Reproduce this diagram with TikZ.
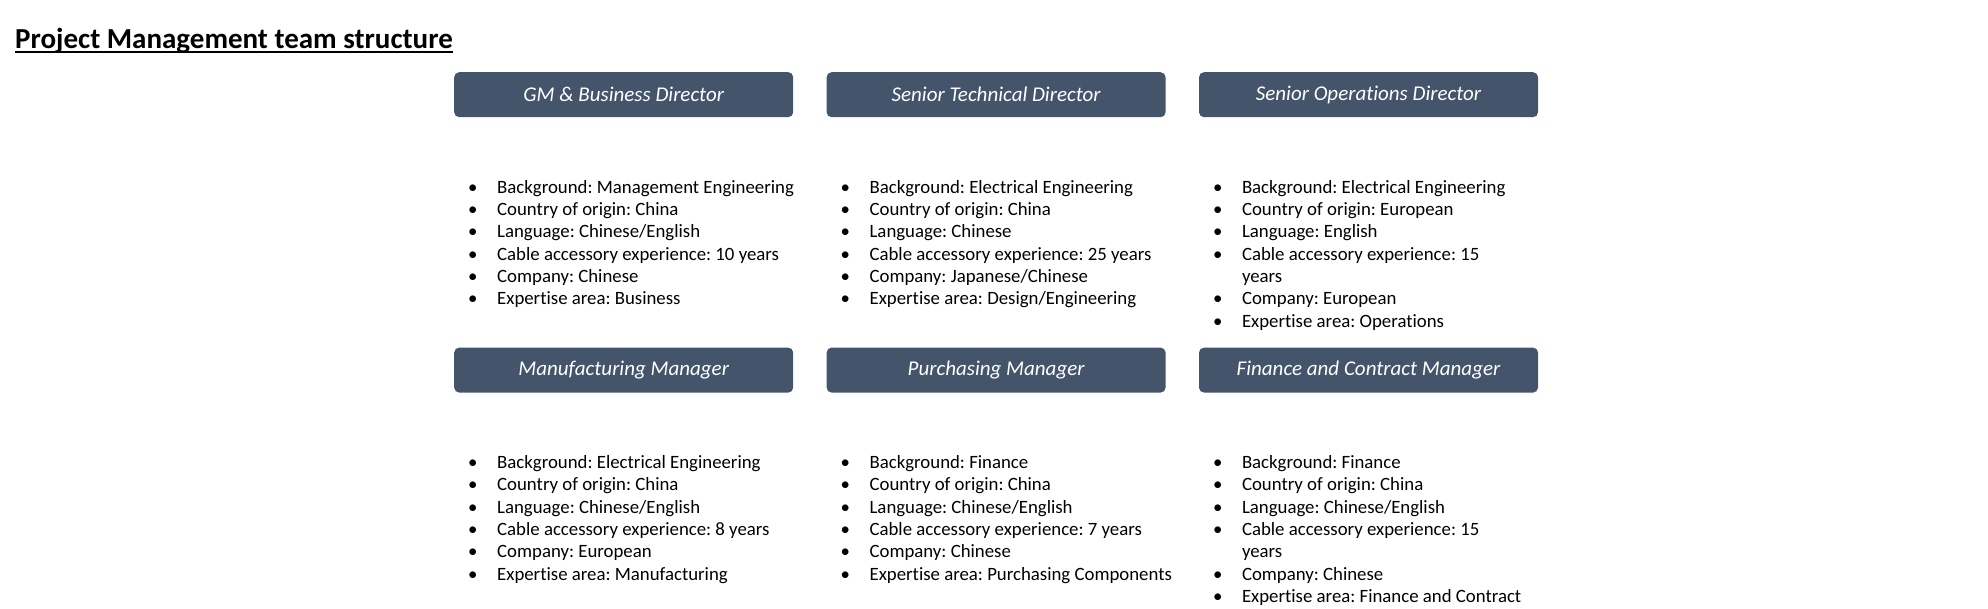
\documentclass[tikz,border=0pt]{standalone}
\usepackage{fontspec}
\setmainfont{Carlito}[Ligatures=NoCommon]
\usepackage{array}
\usetikzlibrary{positioning}
\frenchspacing
\definecolor{rolebg}{HTML}{44546A}
\tikzset{
  pagetitle/.style={inner sep=0pt, font=\fontsize{29}{34}\selectfont\bfseries},
  role/.style={fill=rolebg, draw=none, rounded corners=5pt, text=white,
    minimum width=339pt, minimum height=45pt, inner sep=0pt,
    font=\fontsize{21}{25}\selectfont\itshape},
  info/.style={anchor=north west, inner sep=0pt, align=left,
    font=\fontsize{18.8}{22.3}\selectfont},
}
\newcolumntype{B}{@{}p{29pt}@{}}

\begin{document}
\begin{tikzpicture}[x=1pt, y=-1pt]
\useasboundingbox (0,0) rectangle (1988,609);
% title
\node[pagetitle, anchor=base west] (title) at (15,49) {Project Management team structure};
\draw[line width=1.8pt] ([yshift=-3pt]title.base west) -- ([yshift=-3pt]title.base east);
% role boxes
\node[role, anchor=north west] (gm) at (454,72) {GM \& Business Director};
\node[role, right=33pt of gm] (tech) {Senior Technical Director};
\node[role, right=33pt of tech] (ops) {Senior Operations Director};
\node[role, below=230pt of gm] (manu) {Manufacturing Manager};
\node[role, below=230pt of tech] (purch) {Purchasing Manager};
\node[role, below=230pt of ops] (fin) {Finance and Contract Manager};
% profiles
\node[info] (gminfo) at ([xshift=14pt, yshift=-60pt]gm.south west) {%
\begin{tabular}{Bl@{}}
\textbullet & Background: Management Engineering\\
\textbullet & Country of origin: China\\
\textbullet & Language: Chinese/English\\
\textbullet & Cable accessory experience: 10 years\\
\textbullet & Company: Chinese\\
\textbullet & Expertise area: Business
\end{tabular}};
\node[info] (techinfo) at ([xshift=14pt, yshift=-60pt]tech.south west) {%
\begin{tabular}{Bl@{}}
\textbullet & Background: Electrical Engineering\\
\textbullet & Country of origin: China\\
\textbullet & Language: Chinese\\
\textbullet & Cable accessory experience: 25 years\\
\textbullet & Company: Japanese/Chinese\\
\textbullet & Expertise area: Design/Engineering
\end{tabular}};
\node[info] (opsinfo) at ([xshift=14pt, yshift=-60pt]ops.south west) {%
\begin{tabular}{Bl@{}}
\textbullet & Background: Electrical Engineering\\
\textbullet & Country of origin: European\\
\textbullet & Language: English\\
\textbullet & Cable accessory experience: 15\\
 & years\\
\textbullet & Company: European\\
\textbullet & Expertise area: Operations
\end{tabular}};
\node[info] (manuinfo) at ([xshift=14pt, yshift=-60pt]manu.south west) {%
\begin{tabular}{Bl@{}}
\textbullet & Background: Electrical Engineering\\
\textbullet & Country of origin: China\\
\textbullet & Language: Chinese/English\\
\textbullet & Cable accessory experience: 8 years\\
\textbullet & Company: European\\
\textbullet & Expertise area: Manufacturing
\end{tabular}};
\node[info] (purchinfo) at ([xshift=14pt, yshift=-60pt]purch.south west) {%
\begin{tabular}{Bl@{}}
\textbullet & Background: Finance\\
\textbullet & Country of origin: China\\
\textbullet & Language: Chinese/English\\
\textbullet & Cable accessory experience: 7 years\\
\textbullet & Company: Chinese\\
\textbullet & Expertise area: Purchasing Components
\end{tabular}};
\node[info] (fininfo) at ([xshift=14pt, yshift=-60pt]fin.south west) {%
\begin{tabular}{Bl@{}}
\textbullet & Background: Finance\\
\textbullet & Country of origin: China\\
\textbullet & Language: Chinese/English\\
\textbullet & Cable accessory experience: 15\\
 & years\\
\textbullet & Company: Chinese\\
\textbullet & Expertise area: Finance and Contract
\end{tabular}};
\end{tikzpicture}
\end{document}
